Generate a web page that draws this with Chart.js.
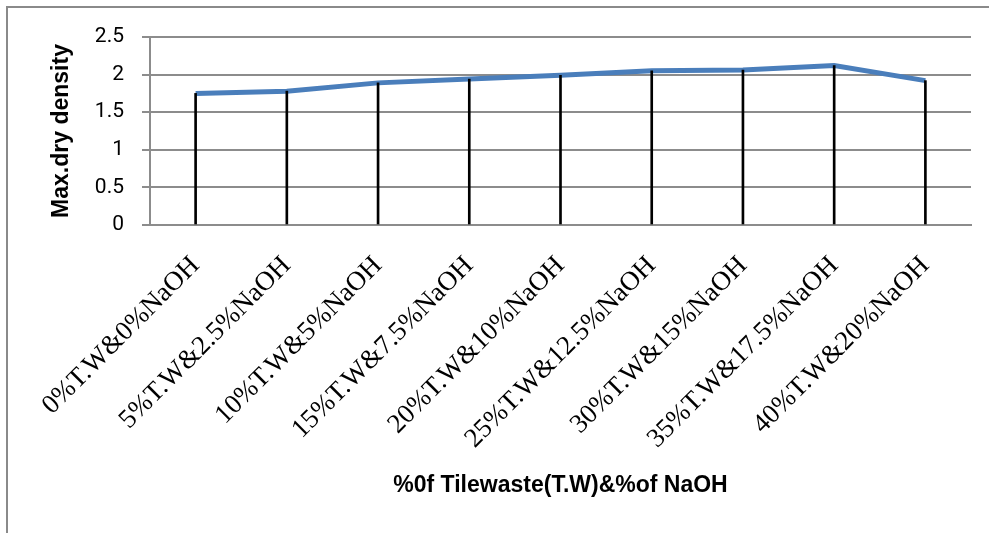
<!DOCTYPE html>
<html>
<head>
<meta charset="utf-8">
<script src="https://cdn.jsdelivr.net/npm/chart.js@4/dist/chart.umd.min.js"></script>
<style>
  html, body { margin: 0; padding: 0; background: #fff; }
  #wrap { position: relative; width: 989px; height: 533px; overflow: hidden; }
  #frame { position: absolute; left: 6px; top: 6px; width: 1020px; height: 600px; border: 2px solid #8a8a8a; }
  #c { position: absolute; left: 0; top: 0; }
</style>
</head>
<body>
<div id="wrap">
  <div id="frame"></div>
  <canvas id="c" width="989" height="533"></canvas>
</div>
<script>
// Catégories (axe X)
const categories = [
    '0%T.W&0%NaOH', '5%T.W&2.5%NaOH', '10%T.W&5%NaOH', '15%T.W&7.5%NaOH',
    '20%T.W&10%NaOH', '25%T.W&12.5%NaOH', '30%T.W&15%NaOH', '35%T.W&17.5%NaOH',
    '40%T.W&20%NaOH'
];

// Densité sèche maximale
const maxDryDensity = [1.75, 1.78, 1.89, 1.94, 1.99, 2.05, 2.06, 2.12, 1.92];

// Graduations de l'axe Y
const yTicks = [0, 0.5, 1, 1.5, 2, 2.5];

const xTitle = '%0f Tilewaste(T.W)&%of NaOH';
const yTitle = 'Max.dry density';

(function () {
    'use strict';

    const canvas = document.getElementById('c');
    const gridGray = '#8c8c8c';

    new Chart(canvas, {
        data: {
            labels: categories,
            datasets: [
                {
                    // lignes de rappel verticales (drop lines)
                    type: 'bar',
                    data: maxDryDensity,
                    backgroundColor: '#000',
                    barThickness: 2,
                    order: 0
                },
                {
                    type: 'line',
                    data: maxDryDensity,
                    borderColor: '#4a7ebb',
                    borderWidth: 5,
                    pointRadius: 0,
                    tension: 0,
                    fill: false,
                    order: 1
                }
            ]
        },
        options: {
            responsive: false,
            animation: false,
            layout: { padding: { left: 0, top: 37, right: 18, bottom: 0 } },
            plugins: {
                legend: { display: false },
                tooltip: { enabled: false }
            },
            scales: {
                x: {
                    type: 'category',
                    offset: true,
                    grid: { display: false, drawTicks: false },
                    border: { display: true, color: gridGray, width: 2 },
                    ticks: {
                        minRotation: 45,
                        maxRotation: 45,
                        autoSkip: false,
                        padding: 25,
                        color: '#000',
                        font: { family: "'Liberation Serif', 'Times New Roman', serif", size: 27 }
                    },
                    title: {
                        display: true,
                        text: xTitle,
                        color: '#000',
                        padding: { top: 4, bottom: 34 },
                        font: { family: "'Liberation Sans', Arial, sans-serif", size: 23, weight: 'bold' }
                    },
                    afterFit: function (scale) { scale.height = 533 - 225; }
                },
                y: {
                    min: 0,
                    max: 2.5,
                    afterBuildTicks: function (scale) {
                        scale.ticks = yTicks.map(v => ({ value: v }));
                    },
                    grid: { color: gridGray, lineWidth: 2, tickLength: 8 },
                    border: { display: true, color: gridGray, width: 2 },
                    ticks: {
                        padding: 18,
                        color: '#000',
                        callback: v => String(v),
                        font: { family: "Roboto, 'Liberation Sans', sans-serif", size: 21 }
                    },
                    title: {
                        display: true,
                        text: yTitle,
                        color: '#000',
                        padding: { top: 48, bottom: 0 },
                        font: { family: "'Liberation Sans', Arial, sans-serif", size: 23, weight: 'bold' }
                    },
                    afterFit: function (scale) { scale.width = 150; }
                }
            }
        }
    });
})();
</script>
</body>
</html>
